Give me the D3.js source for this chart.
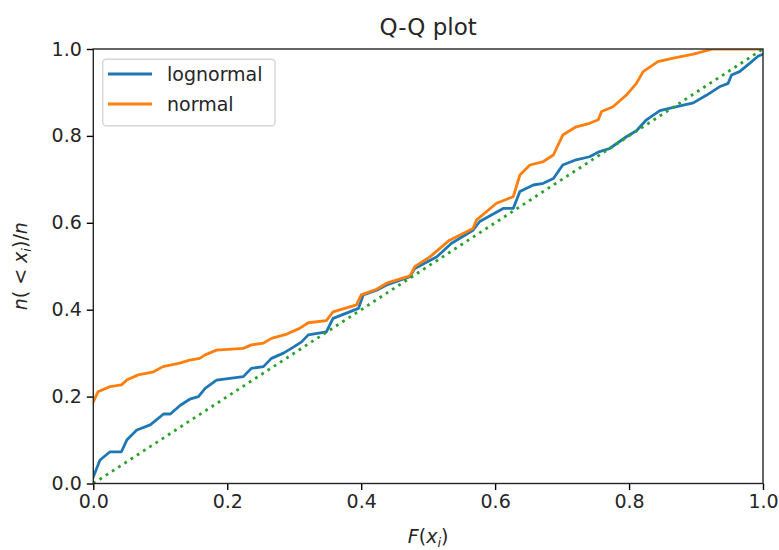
<!DOCTYPE html>
<html>
<head>
<meta charset="utf-8">
<script src="https://cdn.jsdelivr.net/npm/d3@7"></script>
<style>
  body { margin: 0; background: #fff; }
  svg { font-family: "DejaVu Sans", sans-serif; }
</style>
</head>
<body>
<script>
// values
const lognormalX = [0, 0.01, 0.025, 0.042, 0.05, 0.065, 0.085, 0.105, 0.115, 0.13, 0.144, 0.157, 0.167, 0.184, 0.224, 0.236, 0.254, 0.266, 0.284, 0.3, 0.311, 0.321, 0.348, 0.358, 0.396, 0.403, 0.423, 0.438, 0.473, 0.48, 0.513, 0.535, 0.567, 0.577, 0.612, 0.627, 0.637, 0.657, 0.672, 0.687, 0.701, 0.721, 0.741, 0.756, 0.771, 0.796, 0.811, 0.826, 0.846, 0.876, 0.896, 0.916, 0.935, 0.948, 0.953, 0.965, 0.98, 0.993, 1.0];
const lognormalY = [0.015, 0.054, 0.073, 0.073, 0.1, 0.123, 0.135, 0.16, 0.16, 0.18, 0.194, 0.2, 0.219, 0.238, 0.246, 0.265, 0.269, 0.288, 0.3, 0.315, 0.326, 0.342, 0.349, 0.38, 0.403, 0.434, 0.445, 0.457, 0.476, 0.495, 0.522, 0.553, 0.583, 0.603, 0.633, 0.633, 0.672, 0.687, 0.691, 0.702, 0.733, 0.745, 0.752, 0.764, 0.771, 0.798, 0.812, 0.837, 0.858, 0.869, 0.876, 0.894, 0.913, 0.921, 0.94, 0.948, 0.967, 0.984, 0.988];
const normalX = [0, 0.007, 0.025, 0.042, 0.05, 0.067, 0.09, 0.104, 0.129, 0.144, 0.159, 0.167, 0.184, 0.224, 0.236, 0.254, 0.266, 0.289, 0.308, 0.321, 0.348, 0.358, 0.393, 0.4, 0.423, 0.438, 0.473, 0.48, 0.503, 0.532, 0.567, 0.572, 0.602, 0.627, 0.637, 0.652, 0.672, 0.687, 0.701, 0.721, 0.741, 0.754, 0.759, 0.776, 0.796, 0.811, 0.821, 0.843, 0.866, 0.896, 0.925, 1.0];
const normalY = [0.188, 0.211, 0.223, 0.227, 0.238, 0.25, 0.257, 0.269, 0.277, 0.284, 0.288, 0.296, 0.307, 0.311, 0.319, 0.323, 0.334, 0.344, 0.357, 0.37, 0.375, 0.395, 0.411, 0.434, 0.447, 0.461, 0.478, 0.499, 0.522, 0.56, 0.587, 0.606, 0.645, 0.66, 0.71, 0.733, 0.741, 0.756, 0.802, 0.821, 0.829, 0.837, 0.856, 0.867, 0.894, 0.921, 0.948, 0.971, 0.979, 0.988, 1.0, 1.0];
const diagonal = [0, 1];
const ticks = [0, 0.2, 0.4, 0.6, 0.8, 1.0];
const seriesNames = ["lognormal", "normal"];
const seriesColors = ["#1f77b4", "#ff7f0e"];

const WIDTH = 779;
const HEIGHT = 550;
const LEFT = 93.3, RIGHT = 763, TOP = 49, BOTTOM = 483.5;
const LINE_W = 2.8;
const FONT = 19;

const svg = d3.select("body").append("svg")
  .attr("width", WIDTH)
  .attr("height", HEIGHT);

const x = d3.scaleLinear().domain([0, 1]).range([LEFT, RIGHT]);
const y = d3.scaleLinear().domain([0, 1]).range([BOTTOM, TOP]);

svg.append("clipPath").attr("id", "plot-clip")
  .append("rect")
  .attr("x", LEFT).attr("y", TOP)
  .attr("width", RIGHT - LEFT).attr("height", BOTTOM - TOP);

const line = d3.line().x(d => x(d[0])).y(d => y(d[1]));
const plot = svg.append("g").attr("clip-path", "url(#plot-clip)");

plot.append("path")
  .datum(lognormalX.map((v, i) => [v, lognormalY[i]]))
  .attr("d", line)
  .attr("fill", "none")
  .attr("stroke", seriesColors[0])
  .attr("stroke-width", LINE_W)
  .attr("stroke-linejoin", "round")
  .attr("stroke-linecap", "square");

plot.append("path")
  .datum(normalX.map((v, i) => [v, normalY[i]]))
  .attr("d", line)
  .attr("fill", "none")
  .attr("stroke", seriesColors[1])
  .attr("stroke-width", LINE_W)
  .attr("stroke-linejoin", "round")
  .attr("stroke-linecap", "square");

plot.append("path")
  .datum(diagonal.map(v => [v, v]))
  .attr("d", line)
  .attr("fill", "none")
  .attr("stroke", "#2ca02c")
  .attr("stroke-width", LINE_W)
  .attr("stroke-dasharray", `${LINE_W} ${LINE_W * 1.65}`);

// axes
const xAxis = svg.append("g")
  .attr("transform", `translate(0,${BOTTOM})`)
  .call(d3.axisBottom(x).tickValues(ticks).tickFormat(d3.format(".1f")).tickSize(6.5).tickPadding(5));
const yAxis = svg.append("g")
  .attr("transform", `translate(${LEFT},0)`)
  .call(d3.axisLeft(y).tickValues(ticks).tickFormat(d3.format(".1f")).tickSize(6.5).tickPadding(5));

[xAxis, yAxis].forEach(g => {
  g.select(".domain").remove();
  g.selectAll(".tick line").attr("stroke", "#000").attr("stroke-width", 1.4);
  g.selectAll(".tick text")
    .attr("fill", "#262626")
    .style("font-size", FONT + "px")
    .style("font-family", "DejaVu Sans");
});

// frame
svg.append("rect")
  .attr("x", LEFT).attr("y", TOP)
  .attr("width", RIGHT - LEFT).attr("height", BOTTOM - TOP)
  .attr("fill", "none")
  .attr("stroke", "#262626")
  .attr("stroke-width", 1.4);

// title and labels
svg.append("text")
  .attr("x", (LEFT + RIGHT) / 2).attr("y", 35)
  .attr("text-anchor", "middle")
  .style("font-size", "23px")
  .attr("fill", "#262626")
  .text("Q-Q plot");

const xl = svg.append("text")
  .attr("x", (LEFT + RIGHT) / 2).attr("y", 543)
  .attr("text-anchor", "middle")
  .style("font-size", FONT + "px")
  .attr("fill", "#262626");
xl.append("tspan").attr("font-style", "italic").text("F");
xl.append("tspan").text("(");
xl.append("tspan").attr("font-style", "italic").text("x");
xl.append("tspan").attr("font-style", "italic").attr("font-size", "13px").attr("dy", 4).text("i");
xl.append("tspan").attr("dy", -4).text(")");

const yl = svg.append("text")
  .attr("transform", `translate(27,${(TOP + BOTTOM) / 2}) rotate(-90)`)
  .attr("text-anchor", "middle")
  .style("font-size", FONT + "px")
  .attr("fill", "#262626");
yl.append("tspan").attr("font-style", "italic").text("n");
yl.append("tspan").text("( < ");
yl.append("tspan").attr("font-style", "italic").text("x");
yl.append("tspan").attr("font-style", "italic").attr("font-size", "13px").attr("dy", 4).text("i");
yl.append("tspan").attr("dy", -4).text(")/");
yl.append("tspan").attr("font-style", "italic").text("n");

// legend
const legend = svg.append("g");
legend.append("rect")
  .attr("x", 102.7).attr("y", 59.3)
  .attr("width", 172.3).attr("height", 66.4)
  .attr("rx", 3.5)
  .attr("fill", "#fff").attr("fill-opacity", 0.8)
  .attr("stroke", "#d6d6d6").attr("stroke-width", 1.4);

seriesNames.forEach((name, i) => {
  const ly = 74 + i * 30;
  legend.append("line")
    .attr("x1", 108).attr("x2", 152)
    .attr("y1", ly).attr("y2", ly)
    .attr("stroke", seriesColors[i])
    .attr("stroke-width", LINE_W);
  legend.append("text")
    .attr("x", 167).attr("y", ly + 7)
    .style("font-size", FONT + "px")
    .attr("fill", "#262626")
    .text(name);
});
</script>
</body>
</html>
